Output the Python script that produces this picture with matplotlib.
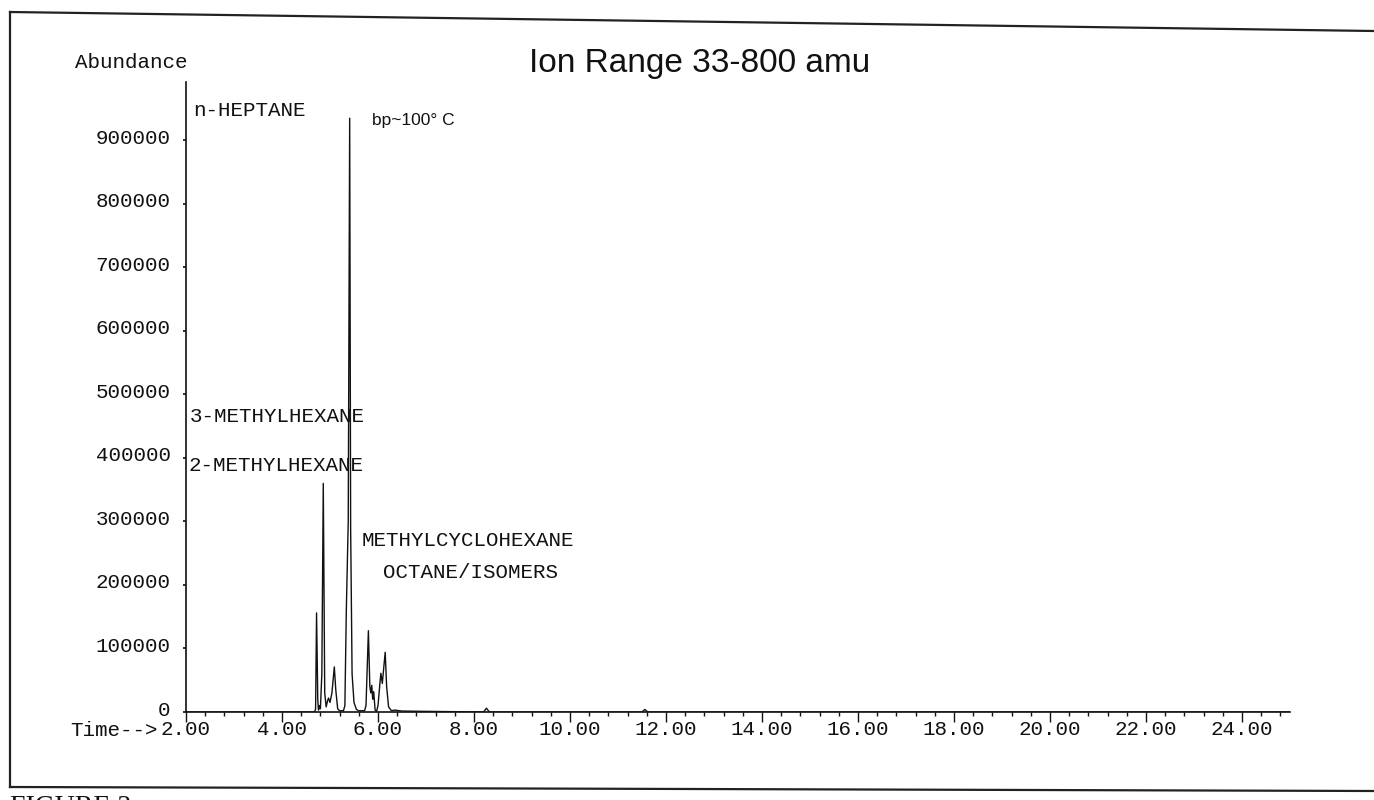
import matplotlib
matplotlib.use("Agg")
import matplotlib.pyplot as plt
import matplotlib.transforms as mtransforms
from matplotlib.lines import Line2D
from matplotlib.ticker import FixedLocator, MultipleLocator

# ---------------- data ----------------
time_min = [2.00, 4.68, 4.70, 4.72, 4.745, 4.76, 4.78, 4.80, 4.83, 4.86, 4.89,
            4.92, 4.95, 4.97, 5.00, 5.04, 5.09, 5.12, 5.16, 5.20, 5.28, 5.31,
            5.34, 5.38, 5.41, 5.43, 5.46, 5.50, 5.55, 5.60, 5.72, 5.75, 5.80,
            5.83, 5.85, 5.87, 5.89, 5.91, 5.94, 5.97, 6.00, 6.04, 6.06, 6.09,
            6.12, 6.15, 6.18, 6.22, 6.28, 6.35, 6.50, 7.00, 8.20, 8.26, 8.32,
            11.50, 11.56, 11.62, 25.00]
abundance = [0, 0, 5000, 156000, 20000, 3000, 10000, 5000, 60000, 360000, 30000,
             8000, 18000, 22000, 15000, 30000, 71000, 35000, 5000, 2000, 2000, 10000,
             160000, 300000, 935000, 290000, 60000, 15000, 4000, 2000, 2000, 10000, 128000,
             40000, 30000, 42000, 20000, 32000, 3000, 1000, 10000, 45000, 61000, 45000,
             70000, 94000, 40000, 8000, 2000, 3000, 1500, 1000, 0, 6000, 0,
             0, 4000, 0, 0]

x_major = [2, 4, 6, 8, 10, 12, 14, 16, 18, 20, 22, 24]
x_labels = ["2.00", "4.00", "6.00", "8.00", "10.00", "12.00", "14.00",
            "16.00", "18.00", "20.00", "22.00", "24.00"]
y_major = [0, 100000, 200000, 300000, 400000, 500000, 600000, 700000, 800000, 900000]
y_labels = ["0", "100000", "200000", "300000", "400000", "500000",
            "600000", "700000", "800000", "900000"]

title_text = "Ion Range 33-800 amu"
peak_labels = [("n-HEPTANE", 193, 110), ("3-METHYLHEXANE", 190, 416),
               ("2-METHYLHEXANE", 188, 465), ("METHYLCYCLOHEXANE", 362, 541),
               ("OCTANE/ISOMERS", 383, 572)]

# ---------------- figure ----------------
W, H = 1374, 800
fig = plt.figure(figsize=(W / 100, H / 100), dpi=100)
fig.patch.set_facecolor("white")

def fx(px):
    return px / W

def fy(py):
    return 1 - py / H

mono = "Liberation Mono"
sans = "Liberation Sans"
ink = "#111111"

ax_left, ax_right, ax_bottom, ax_top = 186, 1290, 712, 82
ax = fig.add_axes([fx(ax_left), fy(ax_bottom), fx(ax_right - ax_left), (ax_bottom - ax_top) / H])
ax.plot(time_min, abundance, color=ink, lw=1.0)
ax.set_xlim(2, 25)
ax.set_ylim(0, 992000)

for s in ["top", "right"]:
    ax.spines[s].set_visible(False)
for s in ["left", "bottom"]:
    ax.spines[s].set_linewidth(1.2)
    ax.spines[s].set_color(ink)

ax.xaxis.set_major_locator(FixedLocator(x_major))
ax.set_xticklabels(x_labels)
ax.xaxis.set_minor_locator(MultipleLocator(0.4))
ax.yaxis.set_major_locator(FixedLocator(y_major))
ax.set_yticklabels(y_labels)

ax.tick_params(axis="x", which="major", direction="out", length=7, width=1,
               pad=-1.2, labelsize=15, colors=ink)
ax.tick_params(axis="x", which="minor", direction="out", length=3, width=1,
               colors=ink)
ax.tick_params(axis="y", which="major", direction="out", length=2, width=1.2,
               pad=9, labelsize=15, colors=ink)
for lab in ax.get_xticklabels() + ax.get_yticklabels():
    lab.set_fontfamily(mono)
# y labels sit slightly above their tick (tick looks like a trailing period)
shift_up = mtransforms.ScaledTranslation(0, 4 / 100, fig.dpi_scale_trans)
for lab in ax.get_yticklabels():
    lab.set_transform(lab.get_transform() + shift_up)

# texts
fig.text(fx(75), fy(62), "Abundance", family=mono, fontsize=15, ha="left", va="center",
         color=ink)
fig.text(fx(700), fy(72), title_text, family=sans, fontsize=24, ha="center",
         va="baseline", color=ink)
fig.text(fx(158), fy(730), "Time-->", family=mono, fontsize=15, ha="right", va="center",
         color=ink)
for txt, px, py in peak_labels:
    fig.text(fx(px), fy(py), txt, family=mono, fontsize=15, ha="left", va="center",
             color=ink)
fig.text(fx(372), fy(120), "bp~100° C", family=sans, fontsize=12.5, ha="left",
         va="center", color=ink)

# outer frame of the scanned page
frame_kw = dict(color="#222222", lw=1.6, transform=fig.transFigure)
fig.add_artist(Line2D([fx(10), fx(1374)], [fy(12), fy(31)], **frame_kw))
fig.add_artist(Line2D([fx(10), fx(10)], [fy(12), fy(787)], **frame_kw))
fig.add_artist(Line2D([fx(10), fx(1374)], [fy(787), fy(791)], **frame_kw))

# partially cut-off caption at the bottom
fig.text(fx(10), fy(795), "FIGURE 3", family="Liberation Serif", fontsize=20,
         ha="left", va="top", color=ink)

fig.savefig("out.png", dpi=100, facecolor="white")
